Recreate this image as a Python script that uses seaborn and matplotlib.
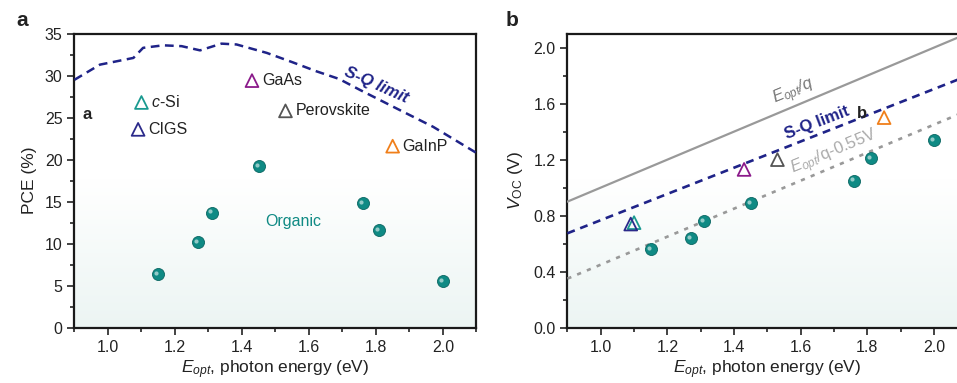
import numpy as np
import pandas as pd
import matplotlib
matplotlib.use("Agg")
import matplotlib.pyplot as plt
from matplotlib.colors import LinearSegmentedColormap
from matplotlib.ticker import MultipleLocator
import seaborn as sns

# data
org_eopt = [1.15, 1.27, 1.31, 1.45, 1.76, 1.81, 2.00]
org_pce = [6.4, 10.2, 13.7, 19.2, 14.8, 11.6, 5.5]
org_voc = [0.56, 0.64, 0.76, 0.89, 1.05, 1.21, 1.34]

inorg_names = ["$c$-Si", "CIGS", "GaAs", "Perovskite", "GaInP"]
inorg_eopt = [1.10, 1.09, 1.43, 1.53, 1.85]
inorg_pce = [26.8, 23.6, 29.4, 25.8, 21.6]
inorg_voc = [0.75, 0.74, 1.13, 1.20, 1.50]
inorg_colors = ["#1a9a90", "#2b2a8a", "#8b1a8a", "#555555", "#f07f1a"]

sq_eopt = [0.90, 0.976, 1.076, 1.105, 1.165, 1.22, 1.275, 1.339, 1.384, 1.474,
           1.55, 1.623, 1.69, 1.752, 1.871, 1.971, 2.10]
sq_pce = [29.5, 31.3, 32.1, 33.3, 33.6, 33.5, 33.0, 33.8, 33.7, 32.7,
          31.6, 30.5, 29.6, 28.3, 25.9, 23.9, 20.8]

line_eopt = [0.9, 2.1]
voc_ideal = [0.9, 2.1]
voc_sq = [0.674, 1.798]
voc_loss = [0.35, 1.55]

sns.set_theme(style="ticks")
plt.rcParams["font.family"] = ["Liberation Sans", "DejaVu Sans"]
plt.rcParams["mathtext.fontset"] = "custom"
plt.rcParams["mathtext.rm"] = "Liberation Sans"
plt.rcParams["mathtext.it"] = "Liberation Sans:italic"
plt.rcParams["mathtext.bf"] = "Liberation Sans:bold"

navy = "#1f2388"
teal = "#0f8a84"
gray = "#999999"
txt = "#222222"

fig = plt.figure(figsize=(9.57, 3.83), dpi=100)
ax1 = fig.add_axes([0.0778, 0.1444, 0.420, 0.768])
ax2 = fig.add_axes([0.5929, 0.1444, 0.418, 0.768])

cmap = LinearSegmentedColormap.from_list("bg", ["#ffffff", "#ffffff", "#ecf5f3"])
grad = np.linspace(1, 0, 100).reshape(-1, 1)


def style(ax, ymax, ymaj, ymin):
    ax.imshow(1 - grad, extent=[0, 1, 0, 1], transform=ax.transAxes, cmap=cmap,
              aspect="auto", zorder=0)
    ax.set_xlim(0.9, 2.1)
    ax.set_ylim(0, ymax)
    ax.xaxis.set_major_locator(MultipleLocator(0.2))
    ax.xaxis.set_minor_locator(MultipleLocator(0.1))
    ax.yaxis.set_major_locator(MultipleLocator(ymaj))
    ax.yaxis.set_minor_locator(MultipleLocator(ymin))
    ax.tick_params(which="both", direction="out", width=1.2, colors=txt,
                   labelsize=11.5, top=False, right=False)
    ax.tick_params(which="major", length=5)
    ax.tick_params(which="minor", length=3)
    for s in ax.spines.values():
        s.set_linewidth(1.6)
        s.set_color("#1a1a1a")
        s.set_visible(True)
    ax.set_xlabel("$E_{opt}$, photon energy (eV)", fontsize=12.5, color=txt, labelpad=3)


def spheres(ax, x, y):
    sns.scatterplot(x=x, y=y, ax=ax, s=75, color=teal, edgecolor="#0a6662",
                    linewidth=0.6, zorder=5, legend=False)
    ax.scatter(np.array(x) - 0.006, np.array(y) + ax.get_ylim()[1] * 0.004, s=9,
               color="white", alpha=0.55, linewidths=0, zorder=6)


# panel a
style(ax1, 35, 5, 2.5)
sns.lineplot(x=sq_eopt, y=sq_pce, ax=ax1, color=navy, lw=1.8, ls=(0, (3.5, 2.2)), zorder=3)
spheres(ax1, org_eopt, org_pce)
for n, x, y, c in zip(inorg_names, inorg_eopt, inorg_pce, inorg_colors):
    ax1.scatter(x, y, marker="^", s=85, facecolors="none", edgecolors=c,
                linewidths=1.3, zorder=5)
    ax1.text(x + 0.03, y, n, fontsize=11.5, color=txt, va="center", ha="left")
ax1.text(1.553, 12.6, "Organic", fontsize=11.5, color=teal, ha="center", va="center")
ax1.text(1.80, 28.9, "S-Q limit", fontsize=12, color=navy, fontweight="bold",
         style="italic", rotation=-24, ha="center", va="center")
ax1.text(0.937, 25.4, "a", fontsize=12, fontweight="bold", color=txt, ha="center", va="center")
ax1.set_ylabel("PCE (%)", fontsize=12.5, color=txt, labelpad=6)
fig.text(0.023, 0.947, "a", fontsize=15, fontweight="bold", color=txt, ha="center", va="center")

# panel b
style(ax2, 2.1, 0.4, 0.2)
sns.lineplot(x=line_eopt, y=voc_ideal, ax=ax2, color=gray, lw=1.6, zorder=3)
sns.lineplot(x=line_eopt, y=voc_sq, ax=ax2, color=navy, lw=1.9, ls=(0, (3, 2.2)), zorder=3)
sns.lineplot(x=line_eopt, y=voc_loss, ax=ax2, color=gray, lw=1.9, ls=(0, (1.6, 2.4)), zorder=3)
spheres(ax2, org_eopt, org_voc)
for x, y, c in zip(inorg_eopt, inorg_voc, inorg_colors):
    ax2.scatter(x, y, marker="^", s=85, facecolors="none", edgecolors=c,
                linewidths=1.3, zorder=5)
ax2.text(1.578, 1.68, "$E_{opt}$/q", fontsize=12, color="#777777", style="italic",
         rotation=22.5, ha="center", va="center")
ax2.text(1.65, 1.46, "S-Q limit", fontsize=12, color=navy, fontweight="bold",
         rotation=21, ha="center", va="center")
ax2.text(1.70, 1.25, "$E_{opt}$/q-0.55V", fontsize=12, color="#aaaaaa",
         rotation=22.5, ha="center", va="center")
ax2.text(1.785, 1.53, "b", fontsize=12, fontweight="bold", color=txt, ha="center", va="center")
ax2.yaxis.set_major_formatter(matplotlib.ticker.FormatStrFormatter("%.1f"))
ax2.set_ylabel("$V_{\\rm OC}$ (V)", fontsize=12.5, color=txt, labelpad=6)
fig.text(0.535, 0.947, "b", fontsize=15, fontweight="bold", color=txt, ha="center", va="center")

fig.savefig("out.png", dpi=100)
